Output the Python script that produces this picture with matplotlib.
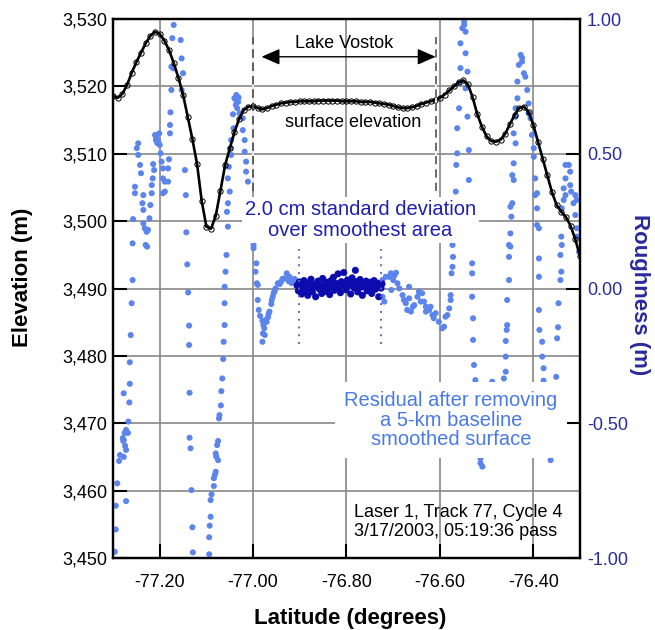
import matplotlib
matplotlib.use('Agg')
import matplotlib.pyplot as plt
from matplotlib.ticker import FuncFormatter, FormatStrFormatter

plt.rcParams['font.family'] = ['Liberation Sans', 'DejaVu Sans']

# ---------------- data ----------------
elev_lat = [-77.30, -77.29, -77.28, -77.27, -77.26, -77.25, -77.24, -77.23, -77.22, -77.21,
            -77.20, -77.19, -77.18, -77.17, -77.16, -77.15, -77.14, -77.13, -77.12, -77.11,
            -77.10, -77.09, -77.08, -77.07, -77.06, -77.05, -77.04, -77.03, -77.02, -77.01,
            -77.00, -76.99, -76.98, -76.97, -76.96, -76.95, -76.94, -76.93, -76.92, -76.91,
            -76.90, -76.89, -76.88, -76.87, -76.86, -76.85, -76.84, -76.83, -76.82, -76.81,
            -76.80, -76.79, -76.78, -76.77, -76.76, -76.75, -76.74, -76.73, -76.72, -76.71,
            -76.70, -76.69, -76.68, -76.67, -76.66, -76.65, -76.64, -76.63, -76.62, -76.61,
            -76.60, -76.59, -76.58, -76.57, -76.56, -76.55, -76.54, -76.53, -76.52, -76.51,
            -76.50, -76.49, -76.48, -76.47, -76.46, -76.45, -76.44, -76.43, -76.42, -76.41,
            -76.40, -76.39, -76.38, -76.37, -76.36, -76.35, -76.34, -76.33, -76.32, -76.31,
            -76.30]
elev_m = [3518.6, 3518.3, 3518.9, 3520.2, 3522.0, 3523.6, 3525.0, 3526.4, 3527.5, 3528.1,
          3527.8, 3526.8, 3525.4, 3523.5, 3521.3, 3518.8, 3515.5, 3512.2, 3508.5, 3503.0,
          3499.2, 3498.9, 3500.8, 3504.5, 3508.3, 3510.8, 3513.2, 3515.2, 3516.5, 3517.0,
          3517.1, 3516.8, 3516.6, 3516.8, 3517.1, 3517.3, 3517.5, 3517.6, 3517.7, 3517.7,
          3517.8, 3517.8, 3517.8, 3517.8, 3517.9, 3517.9, 3517.9, 3517.9, 3517.9, 3517.8,
          3517.8, 3517.8, 3517.8, 3517.7, 3517.7, 3517.7, 3517.6, 3517.5, 3517.4, 3517.3,
          3517.1, 3516.9, 3516.8, 3516.8, 3516.9, 3517.1, 3517.4, 3517.6, 3517.8, 3518.0,
          3518.3, 3518.8, 3519.4, 3520.0, 3520.6, 3520.9, 3520.3, 3518.4, 3515.9, 3514.0,
          3512.6, 3511.9, 3511.8, 3512.1, 3513.0, 3514.4, 3515.8, 3516.8, 3517.0, 3516.2,
          3514.3, 3511.8, 3509.3, 3506.8, 3504.3, 3502.4, 3501.4, 3500.6, 3499.3, 3497.3,
          3494.8]

# residual roughness (lat, m) - light blue, west of the lake
resid_west = [
    (-77.260, -0.054), (-77.262, -0.172), (-77.264, -0.273), (-77.264, -0.353), (-77.277, -0.388),
    (-77.265, -0.422), (-77.267, -0.493), (-77.272, -0.524), (-77.275, -0.535), (-77.268, -0.535),
    (-77.279, -0.554), (-77.278, -0.565), (-77.274, -0.583), (-77.272, -0.598), (-77.277, -0.561),
    (-77.285, -0.617), (-77.277, -0.624), (-77.287, -0.639), (-77.291, -0.722), (-77.272, -0.788),
    (-77.294, -0.805), (-77.294, -0.893), (-77.296, -0.976),
    (-77.257, 0.258), (-77.258, 0.168), (-77.258, 0.032),
    (-77.253, 0.378), (-77.253, 0.354), (-77.246, 0.539), (-77.249, 0.521), (-77.246, 0.496),
    (-77.242, 0.459), (-77.240, 0.428), (-77.235, 0.347), (-77.237, 0.317), (-77.235, 0.292),
    (-77.235, 0.242), (-77.232, 0.224), (-77.228, 0.211), (-77.225, 0.218), (-77.230, 0.162),
    (-77.227, 0.156), (-77.222, 0.261), (-77.220, 0.310), (-77.217, 0.354), (-77.217, 0.384),
    (-77.215, 0.409), (-77.214, 0.462), (-77.212, 0.440), (-77.208, 0.551), (-77.207, 0.558),
    (-77.203, 0.545), (-77.201, 0.576), (-77.200, 0.533), (-77.198, 0.502), (-77.196, 0.471),
    (-77.193, 0.446), (-77.193, 0.409), (-77.189, 0.397), (-77.193, 0.354), (-77.189, 0.360),
    (-77.182, 0.446), (-77.182, 0.397), (-77.180, 0.480), (-77.210, 0.570), (-77.205, 0.540),
    (-77.170, 0.978), (-77.173, 0.929), (-77.155, 0.922), (-77.153, 0.854), (-77.175, 0.823),
    (-77.171, 0.817), (-77.150, 0.799), (-77.175, 0.737), (-77.153, 0.737), (-77.177, 0.654),
    (-77.178, 0.607), (-77.178, 0.576), (-77.146, 0.440), (-77.144, 0.347), (-77.143, 0.209),
    (-77.141, 0.090),
    (-77.139, -0.014), (-77.137, -0.137), (-77.137, -0.209), (-77.136, -0.386), (-77.136, -0.553),
    (-77.134, -0.592), (-77.132, -0.747), (-77.130, -0.885), (-77.129, -0.978),
    (-77.061, 0.007), (-77.061, -0.054), (-77.061, -0.135), (-77.063, -0.197), (-77.064, -0.261),
    (-77.066, -0.333), (-77.068, -0.380), (-77.069, -0.433), (-77.072, -0.469), (-77.073, -0.481),
    (-77.075, -0.565), (-77.077, -0.580), (-77.080, -0.611), (-77.079, -0.623), (-77.075, -0.636),
    (-77.080, -0.679), (-77.082, -0.691), (-77.084, -0.703), (-77.084, -0.732), (-77.089, -0.763),
    (-77.091, -0.784), (-77.091, -0.846), (-77.093, -0.879), (-77.094, -0.922), (-77.094, -0.985),
    (-77.054, 0.409), (-77.052, 0.452), (-77.047, 0.496), (-77.048, 0.521), (-77.047, 0.551),
    (-77.042, 0.595), (-77.043, 0.647), (-77.054, 0.317), (-77.056, 0.285), (-77.054, 0.230),
    (-77.057, 0.125), (-77.059, 0.063), (-77.050, 0.360),
    (-77.036, 0.718), (-77.040, 0.706), (-77.032, 0.693), (-77.037, 0.681), (-77.034, 0.669),
    (-77.029, 0.650), (-77.022, 0.632), (-77.022, 0.588), (-77.018, 0.551), (-77.018, 0.508),
    (-77.015, 0.471), (-77.015, 0.434), (-77.011, 0.397), (-77.031, 0.709), (-77.035, 0.694),
]

# light blue residuals over the lake (outside the smoothest area)
resid_lake = [
    (-76.999, 0.162), (-76.999, 0.150), (-76.993, 0.094), (-76.995, 0.063), (-76.990, 0.014),
    (-76.992, 0.020), (-76.990, -0.042), (-76.988, -0.079), (-76.985, -0.101), (-76.980, -0.119),
    (-76.978, -0.135), (-76.979, -0.166), (-76.980, -0.197), (-76.973, -0.116), (-76.968, -0.106),
    (-76.965, -0.085), (-76.961, -0.057), (-76.958, -0.030), (-76.956, -0.017), (-76.952, 0.001),
    (-76.947, 0.020), (-76.940, 0.026), (-76.933, 0.038), (-76.928, 0.057), (-76.922, 0.044),
    (-76.915, 0.032), (-76.908, 0.026), (-76.975, -0.172), (-76.976, -0.147), (-76.971, -0.123),
    (-76.967, -0.094), (-76.960, -0.042), (-76.954, -0.009), (-76.943, 0.017), (-76.937, 0.036),
    (-76.924, 0.028), (-76.918, 0.021), (-76.911, 0.036),
    (-76.723, 0.032), (-76.723, -0.030), (-76.719, -0.048), (-76.716, 0.044), (-76.709, 0.044),
    (-76.705, 0.057), (-76.694, 0.059), (-76.697, 0.050), (-76.691, 0.020), (-76.687, 0.001),
    (-76.680, -0.024), (-76.677, -0.042), (-76.673, -0.054), (-76.670, -0.079), (-76.666, 0.007),
    (-76.666, -0.036), (-76.662, -0.085), (-76.655, -0.061), (-76.658, -0.067), (-76.648, -0.030),
    (-76.645, -0.011), (-76.641, -0.048), (-76.638, -0.017), (-76.634, -0.048), (-76.630, -0.067),
    (-76.630, -0.085), (-76.623, -0.079), (-76.620, -0.067), (-76.616, -0.098), (-76.613, -0.110),
    (-76.609, -0.091), (-76.602, -0.123), (-76.595, -0.147), (-76.591, -0.141), (-76.588, -0.104),
    (-76.584, -0.098), (-76.580, -0.073), (-76.577, -0.042), (-76.577, -0.024), (-76.704, -0.005),
    (-76.700, 0.032),
]

# light blue residuals east of the lake
resid_east = [
    (-76.548, 0.990), (-76.552, 0.966), (-76.545, 0.953), (-76.548, 0.978), (-76.556, 0.910),
    (-76.545, 0.873), (-76.556, 0.818), (-76.541, 0.805), (-76.559, 0.762), (-76.545, 0.743),
    (-76.559, 0.669), (-76.541, 0.638), (-76.563, 0.595), (-76.563, 0.502), (-76.538, 0.514),
    (-76.565, 0.459), (-76.538, 0.403), (-76.566, 0.360), (-76.570, 0.224), (-76.573, 0.162),
    (-76.572, 0.118), (-76.573, 0.081), (-76.575, 0.057), (-76.531, 0.094), (-76.531, 0.057),
    (-76.531, -0.030), (-76.529, -0.110), (-76.529, -0.190), (-76.527, -0.283), (-76.524, -0.339),
    (-76.488, -0.345), (-76.513, -0.629), (-76.513, -0.647), (-76.509, -0.660),
    (-76.427, 0.867), (-76.424, 0.856), (-76.424, 0.842), (-76.431, 0.830), (-76.420, 0.799),
    (-76.417, 0.786), (-76.434, 0.768), (-76.413, 0.737), (-76.434, 0.706), (-76.410, 0.687),
    (-76.438, 0.669), (-76.410, 0.650), (-76.438, 0.638), (-76.406, 0.632), (-76.442, 0.576),
    (-76.403, 0.570), (-76.438, 0.539), (-76.399, 0.521), (-76.399, 0.489), (-76.442, 0.465),
    (-76.445, 0.421), (-76.442, 0.403), (-76.396, 0.409), (-76.392, 0.354), (-76.396, 0.347),
    (-76.445, 0.317), (-76.449, 0.304), (-76.392, 0.298), (-76.447, 0.267), (-76.392, 0.236),
    (-76.388, 0.224), (-76.449, 0.205), (-76.452, 0.162), (-76.449, 0.156), (-76.452, 0.118),
    (-76.388, 0.112), (-76.388, 0.044), (-76.452, 0.032), (-76.456, -0.042), (-76.388, -0.079),
    (-76.456, -0.135), (-76.457, -0.153), (-76.459, -0.194), (-76.459, -0.252), (-76.459, -0.308),
    (-76.463, -0.333), (-76.387, -0.153), (-76.381, -0.197), (-76.381, -0.252), (-76.378, -0.295),
    (-76.378, -0.341), (-76.347, -0.143), (-76.349, -0.184), (-76.351, -0.327), (-76.346, -0.054),
    (-76.363, -0.636),
    (-76.331, 0.459), (-76.324, 0.459), (-76.321, 0.434), (-76.331, 0.409), (-76.321, 0.384),
    (-76.335, 0.372), (-76.319, 0.360), (-76.310, 0.347), (-76.331, 0.347), (-76.335, 0.329),
    (-76.314, 0.317), (-76.307, 0.329), (-76.339, 0.298), (-76.310, 0.273), (-76.307, 0.224),
    (-76.307, 0.193), (-76.340, 0.193), (-76.339, 0.162), (-76.302, 0.137), (-76.342, 0.125),
    (-76.340, 0.063), (-76.342, 0.032),
]

# dark blue residuals over the smoothest area
resid_smooth = [
    (-76.906, 0.012), (-76.903, -0.008), (-76.901, 0.025), (-76.898, 0.005), (-76.896, -0.020),
    (-76.893, 0.018), (-76.891, 0.030), (-76.888, -0.005), (-76.886, 0.010), (-76.883, -0.025),
    (-76.881, 0.022), (-76.878, 0.000), (-76.876, 0.035), (-76.873, -0.012), (-76.871, 0.015),
    (-76.868, 0.008), (-76.866, -0.030), (-76.863, 0.020), (-76.861, 0.028), (-76.858, -0.002),
    (-76.856, 0.012), (-76.853, -0.018), (-76.851, 0.038), (-76.848, 0.006), (-76.846, 0.016),
    (-76.843, -0.010), (-76.841, 0.024), (-76.838, 0.002), (-76.836, -0.022), (-76.833, 0.030),
    (-76.831, 0.014), (-76.828, 0.042), (-76.826, -0.006), (-76.823, 0.020), (-76.821, 0.010),
    (-76.818, 0.055), (-76.816, 0.004), (-76.813, -0.015), (-76.811, 0.026), (-76.808, 0.018),
    (-76.806, 0.060), (-76.803, 0.008), (-76.801, -0.004), (-76.798, 0.032), (-76.796, 0.022),
    (-76.793, 0.012), (-76.791, -0.020), (-76.788, 0.040), (-76.786, 0.016), (-76.783, 0.002),
    (-76.781, 0.068), (-76.778, 0.026), (-76.776, -0.012), (-76.773, 0.014), (-76.771, 0.034),
    (-76.768, 0.006), (-76.766, -0.025), (-76.763, 0.020), (-76.761, 0.010), (-76.758, 0.028),
    (-76.756, -0.008), (-76.753, 0.016), (-76.751, 0.004), (-76.748, 0.024), (-76.746, -0.018),
    (-76.743, 0.012), (-76.741, 0.030), (-76.738, -0.002), (-76.736, 0.008), (-76.733, 0.020),
    (-76.731, -0.030), (-76.728, 0.014), (-76.726, 0.002), (-76.724, 0.018),
]

x_ticks = [-77.20, -77.00, -76.80, -76.60, -76.40]
elev_ticks = [3450, 3460, 3470, 3480, 3490, 3500, 3510, 3520, 3530]
rough_ticks = [-1.00, -0.50, 0.00, 0.50, 1.00]

lake_edges = [-77.000, -76.608]
smooth_edges = [-76.902, -76.726]

# ---------------- style ----------------
NAVY = '#2a2a9c'
LIGHT = '#5b84ec'
DARK = '#0c0cae'
GRID = '#888888'

fig = plt.figure(figsize=(6.55, 6.3), dpi=100)
ax = fig.add_axes([0.1725, 0.1138, 0.7130, 0.8560])
ax2 = ax.twinx()

ax.set_xlim(-77.30, -76.30)
ax.set_ylim(3450, 3530)
ax2.set_ylim(-1.0, 1.0)

ax.set_xticks(x_ticks)
ax.set_yticks(elev_ticks)
ax2.set_yticks(rough_ticks)
ax.xaxis.set_major_formatter(FormatStrFormatter('%.2f'))
ax.yaxis.set_major_formatter(FuncFormatter(lambda v, p: f"{v:,.0f}"))
ax2.yaxis.set_major_formatter(FormatStrFormatter('%.2f'))

ax.grid(True, color=GRID, lw=1.2)
ax.set_axisbelow(True)

ax.tick_params(axis='y', direction='in', length=10, width=1.5, labelsize=13, pad=4)
ax.tick_params(axis='x', direction='in', length=10, width=1.5, labelsize=13, pad=11)
ax2.tick_params(axis='y', direction='in', length=10, width=1.5, labelsize=13, pad=5,
                labelcolor=NAVY)
for a in (ax, ax2):
    for s in a.spines.values():
        s.set_linewidth(1.6)
        s.set_color('black')

# residual scatter (roughness axis)
ax2.scatter([p[0] for p in resid_west + resid_lake + resid_east],
            [p[1] for p in resid_west + resid_lake + resid_east],
            s=19, color=LIGHT, edgecolors='none', zorder=2)
ax2.scatter([p[0] for p in resid_smooth], [p[1] for p in resid_smooth],
            s=26, color=DARK, edgecolors='none', zorder=2.5)

# surface elevation profile (elevation axis coordinates)
ax2.plot(elev_lat, elev_m, transform=ax.transData, color='black', lw=1.9,
         marker='o', ms=3.8, mfc='none', mec='black', mew=0.7, zorder=3)

# lake boundaries and smooth-area boundaries
for lx in lake_edges:
    ax2.plot([lx, lx], [3504.5, 3527.3], transform=ax.transData, color='#555555',
             lw=1.2, ls=(0, (5, 3)), gapcolor='white', zorder=3)
for sx in smooth_edges:
    ax2.plot([sx, sx], [3481.8, 3495.9], transform=ax.transData, color='#5a6ab8',
             lw=1.4, ls=(0, (1, 3)), zorder=3)

# Lake Vostok arrow
ax2.annotate('', xy=(-76.609, 3524.4), xytext=(-76.982, 3524.4),
             xycoords=ax.transData, textcoords=ax.transData,
             arrowprops=dict(arrowstyle='<|-|>,head_length=0.8,head_width=0.35',
                             mutation_scale=14, color='black', lw=1.0,
                             shrinkA=0, shrinkB=0), zorder=4)
ax2.text(-76.805, 3526.4, 'Lake Vostok', transform=ax.transData, fontsize=13,
         ha='center', va='center', color='black', zorder=4)
ax2.text(-76.785, 3514.6, 'surface elevation', transform=ax.transData, fontsize=13,
         ha='center', va='center', color='black', zorder=4)
ax2.text(-76.770, 3500.2, '2.0 cm standard deviation\nover smoothest area',
         transform=ax.transData, fontsize=14.5, ha='center', va='center',
         color='#1f1fb0', linespacing=1.15, zorder=5,
         bbox=dict(boxstyle='square,pad=0.15', fc='white', ec='none'))
ax2.text(-76.576, 3470.5, 'Residual after removing\na 5-km baseline\nsmoothed surface',
         transform=ax.transData, fontsize=14.5, ha='center', va='center',
         color='#4a7ae8', linespacing=1.05, zorder=5,
         bbox=dict(boxstyle='square,pad=0.45', fc='white', ec='none'))
ax2.text(-76.783, 3455.4, 'Laser 1, Track 77, Cycle 4\n3/17/2003, 05:19:36 pass',
         transform=ax.transData, fontsize=13, ha='left', va='center',
         color='black', linespacing=1.1, zorder=5)

# axis titles
fig.text(0.0344, 0.560, 'Elevation (m)', rotation=90, fontsize=16, fontweight='bold',
         ha='center', va='center')
fig.text(0.977, 0.532, 'Roughness (m)', rotation=270, fontsize=16, fontweight='bold',
         ha='center', va='center', color=NAVY)
fig.text(0.535, 0.019, 'Latitude (degrees)', fontsize=16, fontweight='bold',
         ha='center', va='center')

fig.savefig('out.png', dpi=100)
